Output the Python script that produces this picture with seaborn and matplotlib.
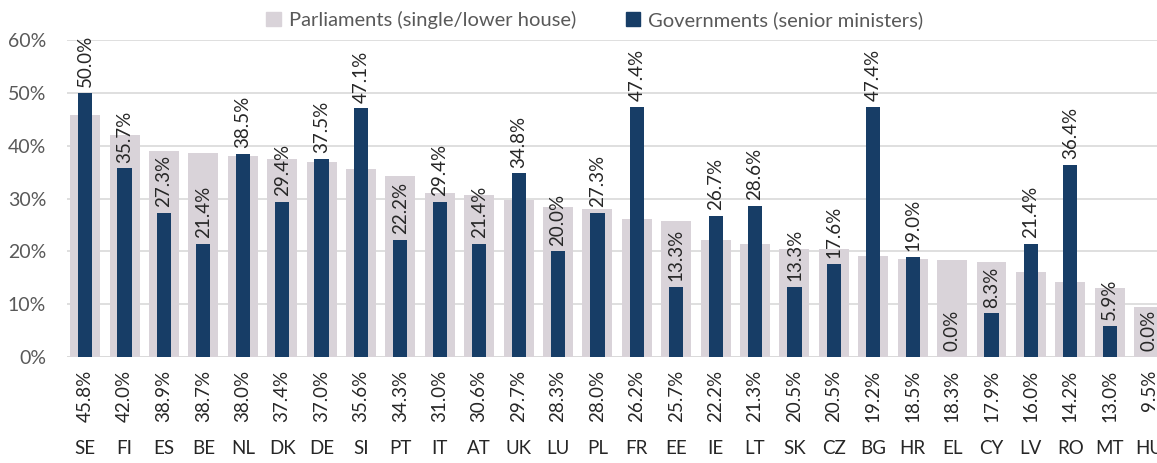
import matplotlib
matplotlib.use("Agg")
import matplotlib.pyplot as plt
import seaborn as sns
import pandas as pd
from matplotlib.patches import Patch

countries = ["SE", "FI", "ES", "BE", "NL", "DK", "DE", "SI", "PT", "IT", "AT", "UK", "LU", "PL",
             "FR", "EE", "IE", "LT", "SK", "CZ", "BG", "HR", "EL", "CY", "LV", "RO", "MT", "HU"]
parliaments = [45.8, 42.0, 38.9, 38.7, 38.0, 37.4, 37.0, 35.6, 34.3, 31.0, 30.6, 29.7, 28.3, 28.0,
               26.2, 25.7, 22.2, 21.3, 20.5, 20.5, 19.2, 18.5, 18.3, 17.9, 16.0, 14.2, 13.0, 9.5]
governments = [50.0, 35.7, 27.3, 21.4, 38.5, 29.4, 37.5, 47.1, 22.2, 29.4, 21.4, 34.8, 20.0, 27.3,
               47.4, 13.3, 26.7, 28.6, 13.3, 17.6, 47.4, 19.0, 0.0, 8.3, 21.4, 36.4, 5.9, 0.0]
yticks = [0, 10, 20, 30, 40, 50, 60]

sns.set_theme(style="white")
plt.rcParams['font.family'] = ['Lato', 'DejaVu Sans']

PARL_C = "#D9D3D9"
GOV_C = "#173D66"
TXT = "#595959"
DARK = "#262626"

df = pd.DataFrame({"country": countries, "parl": parliaments, "gov": governments})

fig = plt.figure(figsize=(11.57, 4.63), dpi=100)
ax = fig.add_axes([67 / 1157, (463 - 357) / 463, 1 - 67 / 1157, 317 / 463])

sns.barplot(data=df, x="country", y="parl", color=PARL_C, width=0.76, ax=ax,
            saturation=1, linewidth=0, zorder=2)
sns.barplot(data=df, x="country", y="gov", color=GOV_C, width=0.36, ax=ax,
            saturation=1, linewidth=0, zorder=3)

ax.set_xlim(-0.46, 27.2)
ax.set_ylim(0, 60)
ax.set_yticks(yticks)
ax.set_yticklabels([f"{v}%" for v in yticks], color=TXT, fontsize=14)
ax.tick_params(axis="y", length=0, pad=15)
ax.yaxis.grid(True, color="#D9D9D9", linewidth=1.2, zorder=0)
ax.set_axisbelow(True)
for s in ax.spines.values():
    s.set_visible(False)
ax.axhline(0, color="#D9D9D9", linewidth=1.2, zorder=1)
ax.set_xlabel("")
ax.set_ylabel("")
ax.set_xticks(range(len(countries)))
ax.set_xticklabels(countries, color=DARK, fontsize=13.5)
ax.tick_params(axis="x", length=0, pad=60)

# government labels above bars
for i, g in enumerate(governments):
    ax.annotate(f"{g:.1f}%", xy=(i, g), xytext=(0, 4), textcoords="offset points",
                rotation=90, ha="center", va="bottom", fontsize=13.5, color=DARK, zorder=4)

# parliament labels below axis
for i, p in enumerate(parliaments):
    ax.annotate(f"{p:.1f}%", xy=(i, 0), xytext=(0, -9), textcoords="offset points",
                rotation=90, ha="center", va="top", fontsize=13.5, color=DARK,
                annotation_clip=False)

handles = [Patch(color=PARL_C, label="Parliaments (single/lower house)"),
           Patch(color=GOV_C, label="Governments (senior ministers)")]
fig.legend(handles=handles, loc="center", bbox_to_anchor=(595 / 1157, 1 - 20 / 463), ncol=2,
           frameon=False, fontsize=14.5, handlelength=0.7, handleheight=0.7,
           columnspacing=2.5, handletextpad=0.4, labelcolor=TXT)

fig.savefig("out.png", dpi=100)
